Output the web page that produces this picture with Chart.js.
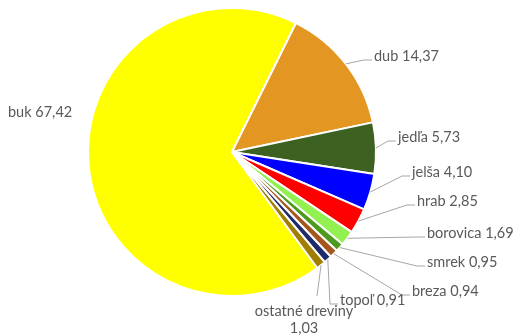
<!DOCTYPE html>
<html>
<head>
<meta charset="utf-8">
<script src="https://cdn.jsdelivr.net/npm/chart.js@4/dist/chart.umd.min.js"></script>
<style>
  body { margin: 0; background: #fff; }
  #wrap { width: 516px; height: 336px; }
</style>
</head>
<body>
<div id="wrap"><canvas id="pieChart"></canvas></div>
<script>
const species = ["buk", "dub", "jedľa", "jelša", "hrab", "borovica", "smrek", "breza", "topoľ", "ostatné dreviny"];
const shares = [67.42, 14.37, 5.73, 4.10, 2.85, 1.69, 0.95, 0.94, 0.91, 1.03];
const colors = ["#ffff00", "#e49622", "#3d6121", "#0000ff", "#ff0000", "#92f050", "#4c9a1e", "#a4561c", "#1f2a6b", "#a27e00"];

// label text position, relative to pie center (left aligned, middle baseline)
const labelOffsets = [
  [-224, -40], [142, -96], [166, -15], [180, 20], [185, 49],
  [195, 81], [195, 110], [180, 139], [108, 148], [72, 159]
];

const ctx = document.getElementById("pieChart");

const fmt = v => v.toFixed(2).replace(".", ",");

const leaderLabels = {
  id: "leaderLabels",
  afterDatasetsDraw(chart) {
    const c = chart.ctx;
    const arcs = chart.getDatasetMeta(0).data;
    c.save();
    c.font = "14.5px Lato";
    c.fillStyle = "#595959";
    c.strokeStyle = "#a6a6a6";
    c.lineWidth = 1;
    c.textBaseline = "middle";
    arcs.forEach((arc, i) => {
      const p = arc.getProps(["x", "y", "startAngle", "endAngle", "outerRadius"], true);
      const mid = (p.startAngle + p.endAngle) / 2;
      const sx = p.x + Math.cos(mid) * p.outerRadius;
      const sy = p.y + Math.sin(mid) * p.outerRadius;
      const tx = p.x + labelOffsets[i][0];
      const ty = p.y + labelOffsets[i][1];
      const val = fmt(shares[i]);

      if (i === 9) {
        // two line, centered label below the pie
        c.beginPath();
        c.moveTo(sx, sy);
        c.lineTo(tx + 13, ty - 15);
        c.stroke();
        c.textAlign = "center";
        c.fillText(species[i], tx, ty);
        c.fillText(val, tx, ty + 17);
        return;
      }
      if (i !== 0) {
        c.beginPath();
        c.moveTo(sx, sy);
        c.lineTo(tx - 10, ty + 4);
        c.lineTo(tx - 2, ty + 4);
        c.stroke();
      }
      c.textAlign = "left";
      c.fillText(species[i] + " " + val, tx, ty);
    });
    c.restore();
  }
};

new Chart(ctx, {
  type: "pie",
  data: {
    labels: species,
    datasets: [{
      data: shares,
      backgroundColor: colors,
      borderColor: "#ffffff",
      borderWidth: 2
    }]
  },
  options: {
    responsive: true,
    maintainAspectRatio: false,
    animation: false,
    rotation: 143.65,
    layout: { padding: { top: 7, bottom: 39, left: 87, right: 139 } },
    plugins: {
      legend: { display: false },
      tooltip: { enabled: false }
    }
  },
  plugins: [leaderLabels]
});
</script>
</body>
</html>
